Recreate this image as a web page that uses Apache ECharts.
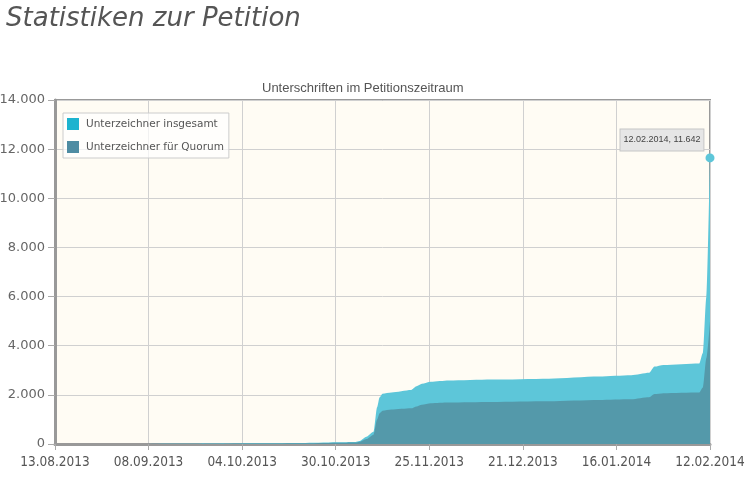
<!DOCTYPE html>
<html>
<head>
<meta charset="utf-8">
<script src="https://cdn.jsdelivr.net/npm/echarts@6/dist/echarts.min.js"></script>
<style>
  html, body { margin: 0; padding: 0; background: #fff; }
  #page { position: relative; width: 746px; height: 482px; }
  h1 { position: absolute; left: 6px; top: 2px; margin: 0; font: italic 26px "DejaVu Sans", sans-serif; color: #555; font-weight: normal; }
  #chart { position: absolute; left: 0; top: 0; width: 746px; height: 482px; }
</style>
</head>
<body>
<div id="page">
  <div id="chart"></div>
  <h1>Statistiken zur Petition</h1>
</div>
<script>
// days since 13.08.2013
var days = [0, 20, 40, 60, 70, 80, 84, 85, 87, 89, 90, 90.7, 91.5, 94, 99.5, 101, 102.5, 105, 110, 122, 138, 152, 161, 166, 167.5, 170, 180, 181, 182, 183]
var totalSigners = [0, 5, 15, 30, 45, 70, 80, 120, 300, 500, 1500, 1900, 2050, 2100, 2200, 2350, 2450, 2530, 2580, 2620, 2660, 2750, 2800, 2900, 3150, 3220, 3280, 3700, 6000, 11642]
var quorumSigners = [0, 3, 10, 20, 30, 50, 60, 80, 200, 380, 1000, 1250, 1350, 1400, 1450, 1530, 1600, 1660, 1690, 1710, 1740, 1790, 1820, 1900, 2030, 2070, 2100, 2300, 3500, 5000]
var yTicks = [0, 2000, 4000, 6000, 8000, 10000, 12000, 14000]

var startDate = Date.UTC(2013, 7, 13)
function pad(n) { return n < 10 ? '0' + n : '' + n }
function dayToDate(v) {
  var d = new Date(startDate + Math.floor(v + 1e-6) * 86400000)
  return pad(d.getUTCDate()) + '.' + pad(d.getUTCMonth() + 1) + '.' + d.getUTCFullYear()
}
function deNum(v) {
  return String(Math.round(v)).replace(/\B(?=(\d{3})+(?!\d))/g, '.')
}

var last = days.length - 1
var totalData = days.map(function (d, i) {
  if (i === last) {
    return {
      value: [d, totalSigners[i]],
      symbol: 'circle',
      symbolSize: 9,
      itemStyle: { color: '#5dc6d9' },
      label: {
        show: true,
        position: [-85, -24],
        formatter: function (p) { return dayToDate(p.value[0]) + ', ' + deNum(p.value[1]) },
        fontFamily: 'Liberation Sans',
        fontSize: 9,
        color: '#444',
        backgroundColor: '#e6e6e6',
        borderColor: '#c6c6c6',
        borderWidth: 1,
        padding: [6, 3]
      }
    }
  }
  return [d, totalSigners[i]]
})
var quorumData = days.map(function (d, i) { return [d, quorumSigners[i]] })

var myChart = echarts.init(document.getElementById('chart'))
myChart.setOption({
  animation: false,
  title: {
    text: 'Unterschriften im Petitionszeitraum',
    left: 257,
    top: 77,
    textStyle: { fontFamily: 'Liberation Sans', fontSize: 13, fontWeight: 'normal', color: '#555' }
  },
  legend: {
    orient: 'vertical',
    left: 63,
    top: 113,
    padding: [5, 5, 5, 4],
    itemGap: 11,
    itemWidth: 12,
    itemHeight: 12,
    icon: 'rect',
    borderColor: '#ccc',
    borderWidth: 1,
    backgroundColor: 'rgba(255,255,255,0.7)',
    textStyle: { fontFamily: 'DejaVu Sans', fontSize: 10.5, color: '#555', padding: [0, 0, 0, 2] }
  },
  grid: {
    show: true,
    left: 55,
    right: 36,
    top: 100,
    bottom: 38,
    outerBoundsMode: 'none',
    containLabel: false,
    backgroundColor: '#fffcf4',
    borderColor: '#999',
    borderWidth: 2
  },
  xAxis: {
    type: 'value',
    min: 0,
    max: 183,
    interval: 183 / 7,
    axisLine: { lineStyle: { color: '#999', width: 3 } },
    axisTick: { show: true, length: 6, lineStyle: { color: '#aaa' } },
    splitLine: { lineStyle: { color: '#d0d0d0' } },
    axisLabel: {
      formatter: dayToDate,
      fontFamily: 'DejaVu Sans Condensed',
      fontSize: 13.5,
      color: '#555',
      margin: 11,
      showMinLabel: true,
      showMaxLabel: true
    }
  },
  yAxis: {
    type: 'value',
    min: yTicks[0],
    max: yTicks[yTicks.length - 1],
    interval: yTicks[1] - yTicks[0],
    axisLine: { show: true, lineStyle: { color: '#999', width: 3 } },
    axisTick: { show: true, length: 7, lineStyle: { color: '#aaa' } },
    splitLine: { lineStyle: { color: '#d0d0d0' } },
    axisLabel: {
      formatter: deNum,
      fontFamily: 'DejaVu Sans',
      fontSize: 13,
      color: '#666',
      margin: 10
    }
  },
  series: [{
    name: 'Unterzeichner insgesamt',
    type: 'line',
    data: totalData,
    symbol: 'none',
    showSymbol: true,
    smooth: 0.25,
    smoothMonotone: 'x',
    itemStyle: { color: '#1db3cf' },
    lineStyle: { width: 0 },
    areaStyle: { color: '#5dc6d9', opacity: 1 },
    z: 2
  }, {
    name: 'Unterzeichner für Quorum',
    type: 'line',
    data: quorumData,
    symbol: 'none',
    smooth: 0.25,
    smoothMonotone: 'x',
    itemStyle: { color: '#4e8ca3' },
    lineStyle: { width: 0 },
    areaStyle: { color: '#5499aa', opacity: 1 },
    z: 3
  }]
})
</script>
</body>
</html>
